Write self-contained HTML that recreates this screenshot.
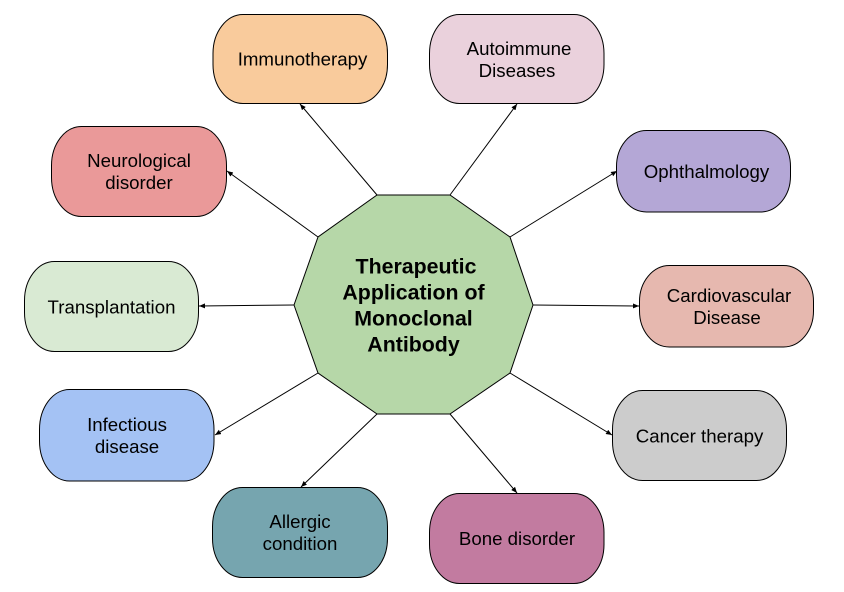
<!DOCTYPE html>
<html><head><meta charset="utf-8"><style>
html,body{margin:0;padding:0;background:#fff;width:844px;height:592px;overflow:hidden}
svg{display:block}
text{font-family:"Liberation Sans",Arial,sans-serif;font-size:18.67px;fill:#000;text-anchor:middle}
.b{font-weight:bold;font-size:21.33px}
rect{stroke:#000;stroke-width:1}
line{stroke:#000;stroke-width:1;marker-end:url(#a)}
</style></head><body>
<svg width="844" height="592" viewBox="0 0 844 592" xmlns="http://www.w3.org/2000/svg">
<defs><marker id="a" markerUnits="userSpaceOnUse" markerWidth="7" markerHeight="6" refX="6" refY="2.500" orient="auto"><path d="M0 0L6 2.500L0 5Z" fill="#000"/></marker></defs>
<line x1="377" y1="195" x2="300" y2="104"/>
<line x1="450" y1="195" x2="517" y2="104"/>
<line x1="510" y1="237" x2="617" y2="171"/>
<line x1="533" y1="305" x2="639" y2="306"/>
<line x1="510" y1="373" x2="612" y2="435"/>
<line x1="450" y1="414" x2="517" y2="493"/>
<line x1="377" y1="414" x2="301" y2="487"/>
<line x1="318" y1="373" x2="215" y2="435"/>
<line x1="294" y1="305" x2="199" y2="306"/>
<line x1="318" y1="237" x2="227" y2="171"/>
<polygon points="377,195 450,195 510,237 533,305 510,373 450,414 377,414 318,373 294,305 318,237" fill="#b6d7a8" stroke="#000" stroke-width="1"/>
<rect x="213" y="14.500" width="174.500" height="89" rx="30" ry="39" fill="#f9cb9c"/>
<rect x="429.500" y="14.500" width="174.500" height="89" rx="30" ry="39" fill="#ead1dc"/>
<rect x="51.500" y="126.500" width="175" height="90" rx="30" ry="39" fill="#ea9999"/>
<rect x="616.500" y="130.500" width="174" height="81.500" rx="30" ry="36" fill="#b4a7d6"/>
<rect x="24.500" y="261.500" width="174" height="90" rx="30" ry="39" fill="#d9ead3"/>
<rect x="639.500" y="265.500" width="174" height="81.500" rx="30" ry="36" fill="#e6b8af"/>
<rect x="39.500" y="389.500" width="174.500" height="91.500" rx="30" ry="40" fill="#a4c2f4"/>
<rect x="612.500" y="390.500" width="174" height="90" rx="30" ry="39" fill="#cccccc"/>
<rect x="212.500" y="487.500" width="175" height="90" rx="30" ry="39" fill="#76a5af"/>
<rect x="429.500" y="493.500" width="174.500" height="90" rx="30" ry="39" fill="#c27ba0"/>
<text x="416" y="273.500" class="b">Therapeutic</text>
<text x="413.500" y="299.500" class="b">Application of</text>
<text x="413.500" y="325.500" class="b">Monoclonal</text>
<text x="413.500" y="351.500" class="b">Antibody</text>
<text x="302.500" y="65.500">Immunotherapy</text>
<text x="519" y="55">Autoimmune</text>
<text x="517" y="77">Diseases</text>
<text x="139" y="167">Neurological</text>
<text x="139" y="189">disorder</text>
<text x="706.500" y="178">Ophthalmology</text>
<text x="111.500" y="313.500">Transplantation</text>
<text x="729" y="302">Cardiovascular</text>
<text x="727" y="324">Disease</text>
<text x="127" y="431">Infectious</text>
<text x="127" y="453">disease</text>
<text x="699.500" y="442.500">Cancer therapy</text>
<text x="300" y="528">Allergic</text>
<text x="300" y="550">condition</text>
<text x="517" y="545">Bone disorder</text>
</svg>
</body></html>
